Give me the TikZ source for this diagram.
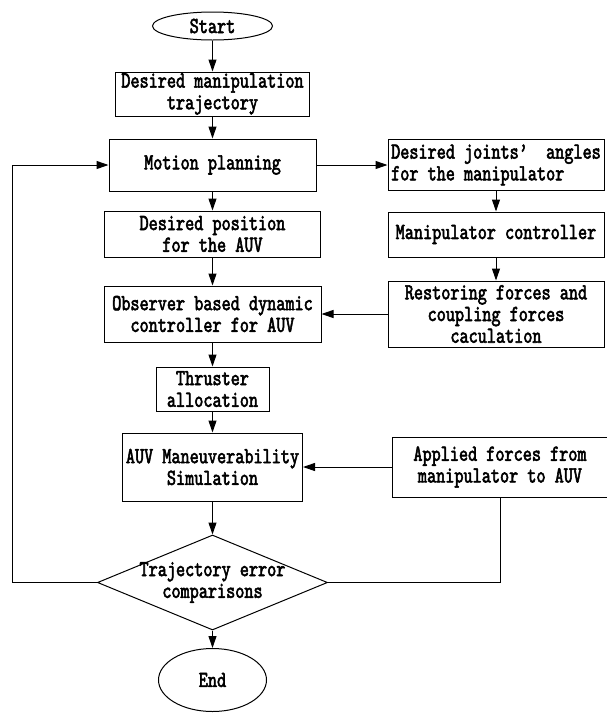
\documentclass[tikz,border=0pt]{standalone}
\usepackage{fontspec}
\setmonofont[Extension=.otf,FakeStretch=0.755,FakeBold=2.4]{lmmono10-regular}
\usetikzlibrary{shapes,arrows.meta}
\tikzstyle{tx}=[font=\ttfamily\fontsize{23pt}{21.7pt}\selectfont]
\tikzstyle{bx}=[rectangle,draw=black,line width=1pt,inner sep=0pt,
  align=center,style=tx]
\tikzstyle{ov}=[ellipse,draw=black,line width=1pt,inner sep=0pt,style=tx]
\tikzstyle{dm}=[diamond,draw=black,line width=1pt,inner sep=0pt]
\tikzstyle{ar}=[-{Triangle[length=12pt,width=8pt]},line width=1pt]

\begin{document}
\begin{tikzpicture}[x=1pt,y=-1pt]
    \useasboundingbox (0,0) rectangle (607,713);
    \node [style=ov,minimum width=120pt,minimum height=28pt] (start) at (212.5,26) {Start};
    \node [style=bx,minimum width=194pt,minimum height=44pt] (traj) at (212.5,94) {Desired manipulation\\trajectory};
    \node [style=bx,minimum width=207pt,minimum height=52pt] (plan) at (212.5,165) {Motion planning};
    \node [style=bx,minimum width=216pt,minimum height=46pt] (pos) at (212.5,234) {Desired position\\ for the AUV};
    \node [style=bx,minimum width=217pt,minimum height=56pt] (obs) at (212.5,314) {Observer based dynamic\\controller for AUV};
    \node [style=bx,minimum width=113pt,minimum height=44pt] (thr) at (212.5,389) {Thruster\\allocation};
    \node [style=bx,minimum width=180pt,minimum height=68pt] (sim) at (212.5,467) {AUV Maneuverability\\Simulation};
    \node [style=dm,minimum width=230pt,minimum height=95pt,
      label={[style=tx,align=center]center:Trajectory error\\comparisons}] (cmp) at (212.5,582.5) {};
    \node [style=ov,minimum width=108pt,minimum height=63pt] (end) at (212.5,680) {End};
    \node [style=bx,minimum width=216pt,minimum height=51pt,align=left] (joint) at (496,165) {Desired joints’\ \ angles\\for the manipulator};
    \node [style=bx,minimum width=216pt,minimum height=45pt] (mctl) at (496,234.5) {Manipulator controller};
    \node [style=bx,minimum width=216pt,minimum height=66pt] (force) at (496,314) {Restoring forces and\\coupling forces\\caculation};
    \node [style=bx,minimum width=216pt,minimum height=60pt] (appl) at (500,467) {Applied forces from\\manipulator to AUV};
    \coordinate (back) at (12,582.5);
    \draw [style=ar] (start) to (traj);
    \draw [style=ar] (traj) to (plan);
    \draw [style=ar] (plan) to (pos);
    \draw [style=ar] (pos) to (obs);
    \draw [style=ar] (obs) to (thr);
    \draw [style=ar] (thr) to (sim);
    \draw [style=ar] (sim) to (cmp);
    \draw [style=ar] (cmp) to (end);
    \draw [style=ar] (plan) to (joint);
    \draw [style=ar] (joint) to (mctl);
    \draw [style=ar] (mctl) to (force);
    \draw [style=ar] (force) to (obs);
    \draw [style=ar] (appl) to (sim);
    \draw [style=ar] (cmp.west) -- (back) |- (plan.west);
    \draw [line width=1pt] (cmp.east) -| (appl.south);
  \end{tikzpicture}
\end{document}
